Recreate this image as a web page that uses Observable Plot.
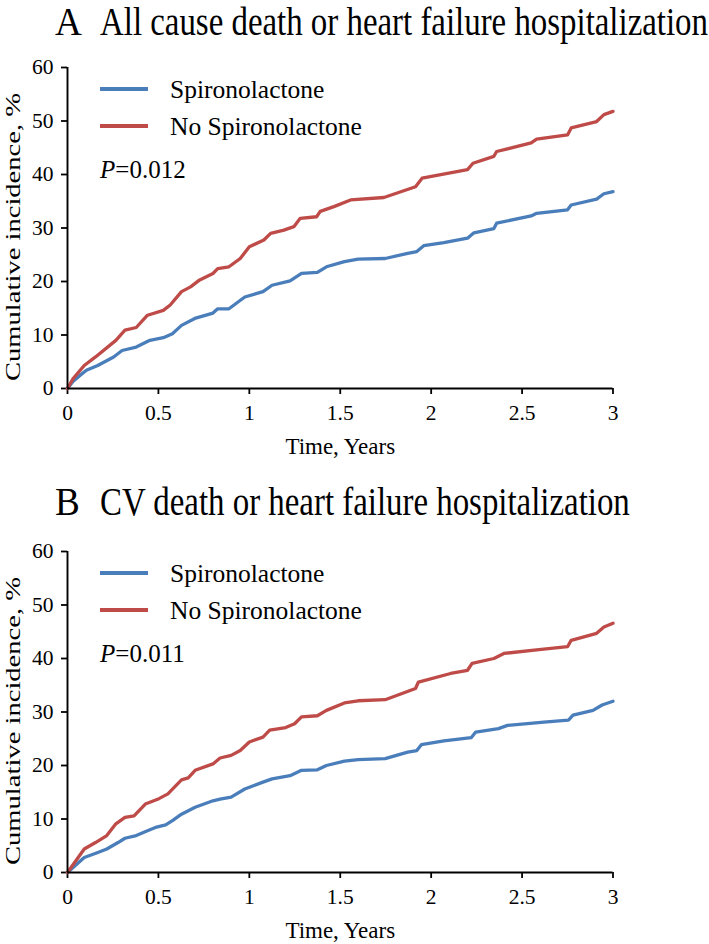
<!DOCTYPE html>
<html>
<head>
<meta charset="utf-8">
<script src="https://cdn.jsdelivr.net/npm/d3@7"></script>
<script src="https://cdn.jsdelivr.net/npm/@observablehq/plot@0.6"></script>
<style>
html, body { margin: 0; padding: 0; background: #fff; overflow: hidden; }
#wrap { position: relative; width: 709px; height: 944px;
  font-family: "Liberation Serif", "Times New Roman", serif; color: #000; }
.panel { position: absolute; left: 0; width: 709px; height: 470px; }
.panel > svg { position: absolute; left: 0; top: 0; }
</style>
</head>
<body>
<div id="wrap">
  <div class="panel" id="pA" style="top:0px"></div>
  <div class="panel" id="pB" style="top:484px"></div>
</div>
<script>
// ---------- data ----------
const groups = ["Spironolactone", "No Spironolactone"];
const colors = ["#4A7EBB", "#BE4B48"];
const xTicks = [0, 0.5, 1, 1.5, 2, 2.5, 3];
const xTickLabels = ["0", "0.5", "1", "1.5", "2", "2.5", "3"];
const yTicks = [0, 10, 20, 30, 40, 50, 60];
const xLabel = "Time, Years";
const yLabel = "Cumulative incidence, %";

const panelLetters = ["A", "B"];
const panelTitles = ["All cause death or heart failure hospitalization", "CV death or heart failure hospitalization"];
const pValues = ["0.012", "0.011"];

// Panel A — all cause death or HF hospitalization
const A_spiro_t = [0, 0.03, 0.067, 0.104, 0.166, 0.254, 0.30, 0.378, 0.453, 0.527, 0.577, 0.627, 0.70, 0.80, 0.826, 0.888, 0.975, 1.075, 1.125, 1.224, 1.287, 1.374, 1.424, 1.523, 1.598, 1.747, 1.871, 1.921, 1.959, 2.07, 2.2, 2.235, 2.345, 2.36, 2.55, 2.58, 2.75, 2.77, 2.91, 2.95, 3.0];
const A_spiro_v = [0, 1.3, 2.4, 3.4, 4.3, 5.9, 7.1, 7.75, 9.0, 9.5, 10.25, 11.8, 13.1, 14.1, 14.9, 14.9, 17.1, 18.1, 19.3, 20.1, 21.5, 21.7, 22.75, 23.7, 24.2, 24.3, 25.25, 25.6, 26.7, 27.25, 28.1, 29.1, 29.9, 30.9, 32.25, 32.75, 33.4, 34.3, 35.4, 36.4, 36.8];
const A_noSpiro_t = [0, 0.03, 0.092, 0.154, 0.266, 0.316, 0.378, 0.44, 0.527, 0.565, 0.627, 0.677, 0.727, 0.80, 0.826, 0.888, 0.95, 1.0, 1.08, 1.117, 1.19, 1.245, 1.28, 1.37, 1.39, 1.465, 1.557, 1.74, 1.914, 1.95, 2.2, 2.23, 2.345, 2.36, 2.55, 2.58, 2.75, 2.77, 2.91, 2.95, 3.0];
const A_noSpiro_v = [0, 1.8, 4.3, 5.9, 9.0, 10.9, 11.4, 13.7, 14.6, 15.6, 18.1, 19.0, 20.3, 21.5, 22.4, 22.75, 24.3, 26.5, 27.75, 29.0, 29.6, 30.25, 31.8, 32.1, 33.1, 34.0, 35.25, 35.7, 37.7, 39.3, 40.9, 42.1, 43.4, 44.3, 45.9, 46.6, 47.4, 48.7, 49.9, 51.2, 51.8];

// Panel B — CV death or HF hospitalization
const B_spiro_t = [0, 0.092, 0.167, 0.216, 0.278, 0.316, 0.378, 0.44, 0.49, 0.54, 0.577, 0.627, 0.702, 0.80, 0.839, 0.90, 0.975, 1.075, 1.125, 1.224, 1.287, 1.374, 1.424, 1.523, 1.598, 1.747, 1.871, 1.921, 1.946, 2.07, 2.22, 2.245, 2.37, 2.42, 2.62, 2.755, 2.78, 2.89, 2.94, 3.0];
const B_spiro_v = [0, 2.8, 3.75, 4.4, 5.6, 6.4, 6.9, 7.8, 8.5, 8.9, 9.7, 10.9, 12.2, 13.4, 13.7, 14.1, 15.6, 16.9, 17.5, 18.1, 19.1, 19.2, 20.0, 20.8, 21.1, 21.3, 22.5, 22.8, 23.9, 24.6, 25.2, 26.25, 26.9, 27.5, 28.1, 28.5, 29.4, 30.3, 31.3, 32.0];
const B_noSpiro_t = [0, 0.092, 0.154, 0.216, 0.266, 0.316, 0.366, 0.428, 0.503, 0.552, 0.627, 0.664, 0.702, 0.80, 0.839, 0.90, 0.95, 1.0, 1.075, 1.112, 1.2, 1.249, 1.287, 1.374, 1.424, 1.523, 1.598, 1.747, 1.914, 1.93, 2.107, 2.2, 2.225, 2.345, 2.4, 2.58, 2.75, 2.77, 2.91, 2.95, 3.0];
const B_noSpiro_v = [0, 4.4, 5.6, 6.9, 9.1, 10.3, 10.6, 12.8, 13.8, 14.7, 17.3, 17.7, 19.1, 20.3, 21.4, 21.9, 22.8, 24.4, 25.3, 26.6, 27.1, 27.8, 29.1, 29.3, 30.3, 31.7, 32.1, 32.3, 34.4, 35.6, 37.2, 37.8, 39.1, 40.0, 40.95, 41.6, 42.2, 43.4, 44.7, 45.9, 46.6];

// ---------- drawing ----------
const FONT = '"Liberation Serif", "Times New Roman", serif';
const W = 709, H = 470;
const M = {left: 67, right: 96.5, top: 67, bottom: 82};

function rowsOf(pairs) {
  const out = [];
  pairs.forEach(([g, ts, vs]) => ts.forEach((t, i) => out.push({t, v: vs[i], g})));
  return out;
}

function makePlot(rows) {
  return Plot.plot({
    width: W, height: H,
    marginLeft: M.left, marginRight: M.right, marginTop: M.top, marginBottom: M.bottom,
    style: {fontFamily: FONT, fontSize: "21.5px", color: "#000", background: "transparent", overflow: "visible"},
    x: {domain: [0, 3], label: null},
    y: {domain: [0, 60], label: null},
    color: {domain: groups, range: colors},
    marks: [
      Plot.axisX({ticks: xTicks, tickFormat: d => xTickLabels[xTicks.indexOf(d)], tickSize: 6, tickPadding: 10, strokeWidth: 1.8, label: null}),
      Plot.axisY({ticks: yTicks, tickFormat: d => String(d), tickSize: 6, tickPadding: 8, strokeWidth: 1.8, label: null}),
      Plot.line(rows, {x: "t", y: "v", z: "g", stroke: "g", strokeWidth: 3.3, strokeLinejoin: "round", strokeLinecap: "round"}),
      Plot.ruleX([0], {stroke: "#000", strokeWidth: 1.9}),
      Plot.ruleY([0], {stroke: "#000", strokeWidth: 1.9}),
      Plot.text([xLabel], {text: d => d, frameAnchor: "bottom", dy: 65, fontSize: 23, fill: "#000"})
    ]
  });
}

function overlay(idx, titleBaseline) {
  const svg = d3.create("svg").attr("width", W).attr("height", H)
    .style("font-family", FONT).style("overflow", "visible");
  // title (narrow, tall lettering as in the reference)
  svg.append("text").attr("transform", `translate(55,${titleBaseline}) scale(0.93,1)`)
    .attr("font-size", 40).attr("fill", "#000").text(panelLetters[idx]);
  svg.append("text").attr("transform", `translate(100,${titleBaseline}) scale(0.822,1)`)
    .attr("font-size", 40).attr("fill", "#000").text(panelTitles[idx]);
  // y-axis title
  svg.append("text").attr("transform", "translate(19.5,237) rotate(-90) scale(1.3,1)")
    .attr("text-anchor", "middle").attr("font-size", 22).attr("fill", "#000").text(yLabel);
  // legend
  const ly = [89, 126];
  groups.forEach((g, i) => {
    svg.append("line").attr("x1", 100).attr("x2", 148).attr("y1", ly[i]).attr("y2", ly[i])
      .attr("stroke", colors[i]).attr("stroke-width", 3.8);
    svg.append("text").attr("x", 170).attr("y", ly[i]).attr("dy", "0.34em").attr("font-size", 25.5).attr("fill", "#000").text(g);
  });
  // p-value
  const p = svg.append("text").attr("x", 100).attr("y", 169.5).attr("dy", "0.34em").attr("font-size", 25).attr("fill", "#000");
  p.append("tspan").attr("font-style", "italic").text("P");
  p.append("tspan").text("=" + pValues[idx]);
  return svg.node();
}

const rowsA = rowsOf([[groups[0], A_spiro_t, A_spiro_v], [groups[1], A_noSpiro_t, A_noSpiro_v]]);
const rowsB = rowsOf([[groups[0], B_spiro_t, B_spiro_v], [groups[1], B_noSpiro_t, B_noSpiro_v]]);

const pA = document.getElementById("pA");
pA.appendChild(makePlot(rowsA));
pA.appendChild(overlay(0, 35));
const pB = document.getElementById("pB");
pB.appendChild(makePlot(rowsB));
pB.appendChild(overlay(1, 31));
</script>
</body>
</html>
